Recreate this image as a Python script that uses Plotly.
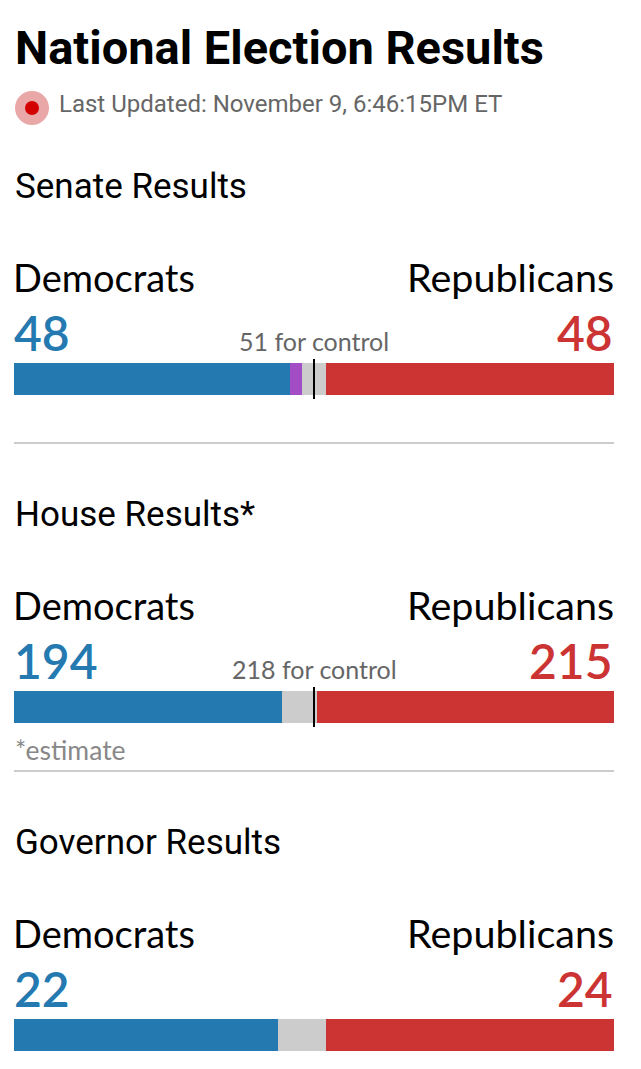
import plotly.graph_objects as go

# the page body has an 8px margin, so the figure is a bit smaller
# and all pixel positions below are measured in window coordinates
PAGE_W, PAGE_H = 641, 1069
PAD = 8
W, H = PAGE_W - PAD, PAGE_H - PAD

# data
sections = ["Senate Results", "House Results*", "Governor Results"]
dem_seats = [46, 194, 22]
ind_seats = [2, 0, 0]
open_seats = [4, 26, 4]
rep_seats = [48, 215, 24]
dem_labels = ["48", "194", "22"]
rep_labels = ["48", "215", "24"]
control_labels = ["51 for control", "218 for control", ""]
notes = ["", "*estimate", ""]
updated = "Last Updated: November 9, 6:46:15PM ET"

BLUE = "#2479b0"
RED = "#cc3333"
GRAY = "#cccccc"
PURPLE = "#a24cc6"

LEFT, RIGHT = 14, 614
STEP = 328  # pixel offset between sections


def px(x):
    return (x - PAD) / W


def py(y):
    return 1 - (y - PAD) / H


fig = go.Figure()
annotations = []
shapes = []


def text(s, x, y, size, color="#000", family="Lato", anchor="left", weight=400):
    # y is the text baseline in pixels
    annotations.append(dict(
        text=s, x=px(x), y=py(y + 0.24 * size), xref="paper", yref="paper",
        xanchor=anchor, yanchor="bottom", showarrow=False, borderpad=0,
        font=dict(size=size, color=color, family=family, weight=weight)))


text("National Election Results", LEFT, 65, 47, "#000", "Roboto", weight=700)
shapes.append(dict(type="circle", xref="paper", yref="paper", line_width=0,
                   fillcolor="#eaa7a7", x0=px(15), x1=px(49), y0=py(91), y1=py(125)))
shapes.append(dict(type="circle", xref="paper", yref="paper", line_width=0,
                   fillcolor="#d30000", x0=px(25), x1=px(39), y0=py(101), y1=py(115)))
text(updated, 58, 113, 24, "#666", "Roboto")

for i, name in enumerate(sections):
    off = i * STEP
    n = str(i + 1) if i else ""
    total = dem_seats[i] + ind_seats[i] + open_seats[i] + rep_seats[i]

    segs = [(dem_seats[i], BLUE), (ind_seats[i], PURPLE),
            (open_seats[i], GRAY), (rep_seats[i], RED)]
    for val, col in segs:
        fig.add_trace(go.Bar(x=[val], y=[0], orientation="h", width=1,
                             marker=dict(color=col, line_width=0),
                             xaxis="x" + n, yaxis="y" + n,
                             showlegend=False, hoverinfo="x"))

    fig.layout["xaxis" + n] = dict(domain=[px(LEFT), px(RIGHT)], range=[0, total],
                                   visible=False, fixedrange=True,
                                   anchor="y" + n)
    fig.layout["yaxis" + n] = dict(domain=[py(395 + off), py(363 + off)],
                                   range=[-0.5, 0.5], visible=False,
                                   fixedrange=True, anchor="x" + n)

    text(name, LEFT, 200 + off, 35, "#000", "Roboto")
    text("Democrats", LEFT - 2, 292 + off, 38)
    text("Republicans", RIGHT + 1, 292 + off, 39.5, anchor="right")
    text(dem_labels[i], LEFT - 1, 350 + off, 48, BLUE, weight=600)
    text(rep_labels[i], RIGHT, 350 + off, 48, RED, anchor="right", weight=600)

    if control_labels[i]:
        text(control_labels[i], 314, 351 + off, 25, "#666", anchor="center")
        shapes.append(dict(type="line", xref="x" + n, yref="paper",
                           x0=total / 2, x1=total / 2,
                           y0=py(359 + off), y1=py(399 + off),
                           line=dict(color="#000", width=2)))
    if notes[i]:
        text(notes[i], LEFT, 433 + off, 26.5, "#888")
    if i < len(sections) - 1:
        shapes.append(dict(type="line", xref="paper", yref="paper",
                           x0=px(LEFT), x1=px(RIGHT), y0=py(443 + off), y1=py(443 + off),
                           line=dict(color="#cccccc", width=2)))

fig.update_layout(
    width=W, height=H,
    margin=dict(l=0, r=0, t=0, b=0),
    barmode="stack", bargap=0,
    paper_bgcolor="white", plot_bgcolor="white",
    annotations=annotations, shapes=shapes,
)

fig.write_html("out.html")
